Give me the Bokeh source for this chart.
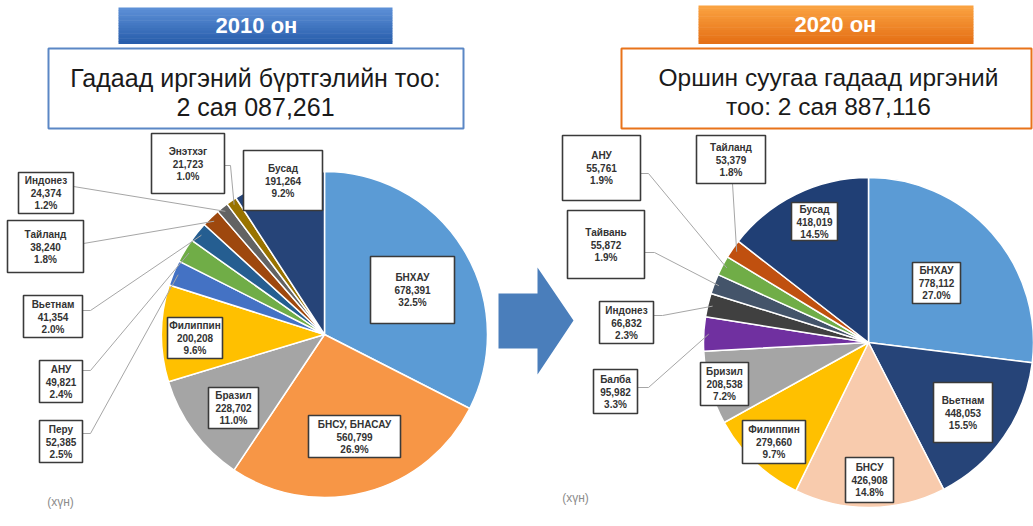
import math
from bokeh.plotting import figure
from bokeh.models import Range1d, ColumnDataSource
from bokeh.core.properties import value
from bokeh.embed import file_html
from bokeh.resources import INLINE

# ---------------- data ----------------
countries_2010 = ["БНХАУ", "БНСУ, БНАСАУ", "Бразил", "Филиппин", "Перу", "АНУ",
                  "Вьетнам", "Тайланд", "Индонез", "Энэтхэг", "Бусад"]
values_2010 = [678391, 560799, 228702, 200208, 52385, 49821, 41354, 38240, 24374, 21723, 191264]

countries_2020 = ["БНХАУ", "Вьетнам", "БНСУ", "Филиппин", "Бризил", "Балба",
                  "Индонез", "Тайвань", "АНУ", "Тайланд", "Бусад"]
values_2020 = [778112, 448053, 426908, 279660, 208538, 95982, 66832, 55872, 55761, 53379, 418019]

year_labels = ["2010 он", "2020 он"]
total_lines_2010 = ["Гадаад иргэний бүртгэлийн тоо:", "2 сая 087,261"]
total_lines_2020 = ["Оршин суугаа гадаад иргэний", "тоо: 2 сая 887,116"]
unit_label = "(хүн)"

# ---------------- styles / layout ----------------
colors_2010 = ["#5B9BD5", "#F79646", "#A5A5A5", "#FFC000", "#4472C4", "#70AD47",
               "#255E91", "#9E480E", "#636363", "#997300", "#264478"]
colors_2020 = ["#5B9BD5", "#264478", "#F8CBAD", "#FFC000", "#A5A5A5", "#7030A0",
               "#404040", "#44546A", "#70AD47", "#C0500F", "#203F75"]

W, H = 1033, 526
FONT = "Liberation Sans"

# label boxes (x0, x1, y0, y1) in page pixels, and leader-line start points
boxes_2010 = [(370, 454, 256, 323), (308, 400, 415, 457), (208, 258, 387, 428),
              (167, 222, 317, 358), (39, 82, 420, 462), (39, 82, 360, 402),
              (23, 82, 295, 337), (7, 83, 220, 272), (18, 73, 172, 213),
              (151, 224, 133, 193), (243, 322, 150, 210)]
leaders_2010 = [None, None, None, None,
                [(82, 433), (90, 433)], [(82, 370), (90, 370)], [(82, 310), (90, 310)],
                [(83, 243)], [(73, 186)], [(224, 165), (230, 165)], None]

boxes_2020 = [(912, 960, 262, 303), (933, 992, 382, 442), (845, 893, 457, 502),
              (742, 805, 420, 463), (700, 748, 362, 405), (593, 637, 369, 413),
              (599, 653, 301, 343), (567, 644, 210, 278), (562, 640, 135, 200),
              (696, 765, 135, 183), (791, 837, 202, 240)]
leaders_2020 = [None, None, None, None, None,
                [(637, 387), (648, 387)], [(653, 315), (662, 315)],
                [(644, 252), (654, 252)], [(640, 173), (648, 173)],
                [(732, 183)], None]


def Y(py):
    return H - py


p = figure(width=W, height=H, x_range=Range1d(0, W), y_range=Range1d(0, H),
           output_backend="svg", toolbar_location=None,
           x_axis_type=None, y_axis_type=None, min_border=0)
p.grid.visible = False
p.outline_line_color = None
p.background_fill_color = "white"
p.border_fill_color = "white"


def lerp(c1, c2, t):
    return "#%02x%02x%02x" % tuple(int(round(a + (b - a) * t)) for a, b in zip(c1, c2))


def grad_bar(x0, x1, y0, y1, ctop, cbot, n=14):
    h = (y1 - y0) / n
    lefts, rights, tops, bottoms, cols = [], [], [], [], []
    for i in range(n):
        lefts.append(x0); rights.append(x1)
        tops.append(Y(y0 + i * h)); bottoms.append(Y(y0 + (i + 1) * h + 0.5))
        cols.append(lerp(ctop, cbot, i / (n - 1)))
    p.quad(left=lefts, right=rights, top=tops, bottom=bottoms,
           fill_color=cols, line_color=None)


# title bars
grad_bar(118, 392, 7, 43, (92, 143, 214), (40, 94, 172))
p.text(x=[256], y=[Y(25)], text=[year_labels[0]], text_font=value(FONT),
       text_font_style="bold", text_font_size="22px", text_color="white",
       text_align="center", text_baseline="middle")
grad_bar(698, 973, 5, 43, (250, 162, 64), (229, 112, 22))
p.text(x=[835], y=[Y(24)], text=[year_labels[1]], text_font=value(FONT),
       text_font_style="bold", text_font_size="22px", text_color="white",
       text_align="center", text_baseline="middle")

# subtitle boxes
p.quad(left=[48], right=[463], top=[Y(48)], bottom=[Y(128)], fill_color="white",
       line_color="#5b87c5", line_width=2)
p.text(x=[255, 255], y=[Y(77), Y(106)], text=total_lines_2010, text_font=value(FONT),
       text_font_size="25px", text_color="#1a1a1a", text_align="center",
       text_baseline="middle")
p.quad(left=[621], right=[1031], top=[Y(48)], bottom=[Y(128)], fill_color="white",
       line_color="#E8731A", line_width=2)
p.text(x=[828, 828], y=[Y(77), Y(106)], text=total_lines_2020, text_font=value(FONT),
       text_font_size="24.5px", text_color="#1a1a1a", text_align="center",
       text_baseline="middle")

# arrow
ax = [498, 537, 537, 573, 537, 537, 498]
ay = [293, 293, 267, 320, 374, 348, 348]
p.patch(x=ax, y=[Y(v) for v in ay], fill_color="#4a7ebb", line_color=None)


def draw_pie(names, vals, colors, cx, cy, r, boxes, leaders):
    total = float(sum(vals))
    starts, ends, mids = [], [], []
    cum = 0.0
    for v in vals:
        a0 = cum / total * 2 * math.pi
        cum += v
        a1 = cum / total * 2 * math.pi
        starts.append(math.pi / 2 - a0)
        ends.append(math.pi / 2 - a1)
        mids.append((a0 + a1) / 2)
    src = ColumnDataSource(dict(start=starts, end=ends, color=colors))
    p.wedge(x=cx, y=Y(cy), radius=r, start_angle="start", end_angle="end",
            direction="clock", fill_color="color", line_color="white",
            line_width=1.5, source=src)
    # leader lines
    xs, ys = [], []
    for lead, m in zip(leaders, mids):
        if lead is None:
            continue
        rr = r * 0.97
        ex = cx + rr * math.sin(m)
        ey = cy - rr * math.cos(m)
        pts = list(lead) + [(ex, ey)]
        xs.append([q[0] for q in pts])
        ys.append([Y(q[1]) for q in pts])
    p.multi_line(xs=xs, ys=ys, line_color="#a6a6a6", line_width=1)
    # label boxes
    p.quad(left=[b[0] for b in boxes], right=[b[1] for b in boxes],
           top=[Y(b[2]) for b in boxes], bottom=[Y(b[3]) for b in boxes],
           fill_color="white", line_color="#3a3a3a", line_width=1.6)
    tx, ty, tt = [], [], []
    for n, v, b in zip(names, vals, boxes):
        mx = (b[0] + b[1]) / 2
        my = (b[2] + b[3]) / 2
        lines = [n, f"{v:,}", f"{v / total * 100:.1f}%"]
        for k, s in enumerate(lines):
            tx.append(mx)
            ty.append(Y(my + (k - 1) * 12.5))
            tt.append(s)
    p.text(x=tx, y=ty, text=tt, text_font=value(FONT), text_font_style="bold",
           text_font_size="10px", text_color="#333333", text_align="center",
           text_baseline="middle")


draw_pie(countries_2010, values_2010, colors_2010, 324, 334, 163, boxes_2010, leaders_2010)
draw_pie(countries_2020, values_2020, colors_2020, 868, 342, 165, boxes_2020, leaders_2020)

p.text(x=[60, 575], y=[Y(501), Y(497)], text=[unit_label, unit_label],
       text_font=value(FONT), text_font_size="12px", text_color="#8c8c8c",
       text_align="center", text_baseline="middle")

open("out.html", "w").write(file_html(p, INLINE))
